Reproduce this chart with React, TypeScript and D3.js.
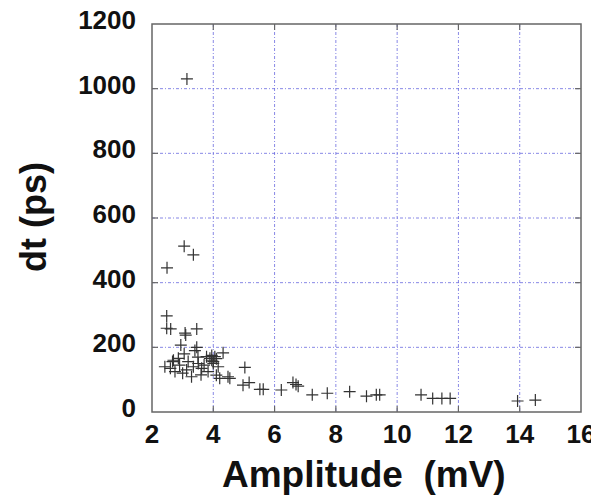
import React from "react";
import * as d3 from "d3";

const amplitude: number[] = [
  3.14, 3.05, 3.35, 2.49, 2.48, 2.48, 2.61, 3.46, 3.10, 2.94, 3.46, 4.32,
  2.42, 2.75, 2.86, 3.18, 3.29, 3.51, 3.62, 3.78, 3.89, 4.00, 3.83, 4.10,
  4.48, 4.16, 3.13, 3.35, 5.03, 4.97, 5.17, 5.52, 6.22, 6.60, 6.77, 6.70,
  7.23, 7.72, 8.45, 9.00, 9.32, 9.43, 10.78, 11.16, 11.46, 11.73, 13.93, 14.51,
  4.05, 4.00, 4.21, 4.54, 3.95, 3.95, 2.60, 2.90, 3.00, 3.60, 3.50, 3.05,
  2.70, 4.10, 3.70, 5.63, 3.40, 3.08, 2.67,
];
const dt: number[] = [
  1030, 513, 486, 446, 297, 259, 257, 257, 238, 207, 200, 183,
  140, 125, 166, 156, 109, 150, 135, 171, 166, 156, 125, 114,
  109, 140, 130, 140, 138, 83, 91, 70, 68, 91, 80, 85,
  53, 58, 63, 49, 53, 53, 53, 42, 42, 42, 34, 37,
  171, 150, 104, 104, 175, 160, 135, 145, 120, 115, 170, 180,
  160, 165, 145, 70, 190, 244, 156,
];
const xTicks: number[] = [2, 4, 6, 8, 10, 12, 14, 16];
const yTicks: number[] = [0, 200, 400, 600, 800, 1000, 1200];
const xLabel = "Amplitude  (mV)";
const yLabel = "dt (ps)";

const W = 591;
const H = 502;
const L = 152;
const R = 581;
const T = 24;
const B = 412;
const FONT = "'Liberation Sans', Arial, Helvetica, sans-serif";

export default function App() {
  const x = d3.scaleLinear().domain([2, 16]).range([L, R]);
  const y = d3.scaleLinear().domain([0, 1200]).range([B, T]);
  const gridColor = "#6b6be0";
  const frameColor = "#666";
  const tickLen = 6;
  const arm = 6;

  return (
    <svg
      width={W}
      height={H}
      style={{ position: "absolute", left: 0, top: 0, background: "#fff" }}
    >
      <rect x={0} y={0} width={W} height={H} fill="#fff" />
      {/* grid */}
      {xTicks.slice(1, -1).map((t) => (
        <line
          key={"gx" + t}
          x1={x(t)}
          x2={x(t)}
          y1={T}
          y2={B}
          stroke={gridColor}
          strokeWidth={1}
          strokeDasharray="3,2,1,2"
          opacity={0.8}
        />
      ))}
      {yTicks.slice(1, -1).map((t) => (
        <line
          key={"gy" + t}
          x1={L}
          x2={R}
          y1={y(t)}
          y2={y(t)}
          stroke={gridColor}
          strokeWidth={1}
          strokeDasharray="3,2,1,2"
          opacity={0.8}
        />
      ))}
      {/* ticks */}
      {xTicks.slice(1, -1).map((t) => (
        <g key={"tx" + t}>
          <line x1={x(t)} x2={x(t)} y1={B} y2={B - tickLen} stroke={frameColor} strokeWidth={1.2} />
          <line x1={x(t)} x2={x(t)} y1={T} y2={T + tickLen} stroke={frameColor} strokeWidth={1.2} />
        </g>
      ))}
      {yTicks.slice(1, -1).map((t) => (
        <g key={"ty" + t}>
          <line x1={L} x2={L + tickLen} y1={y(t)} y2={y(t)} stroke={frameColor} strokeWidth={1.2} />
          <line x1={R} x2={R - tickLen} y1={y(t)} y2={y(t)} stroke={frameColor} strokeWidth={1.2} />
        </g>
      ))}
      {/* frame */}
      <rect x={L} y={T} width={R - L} height={B - T} fill="none" stroke={frameColor} strokeWidth={1.5} />
      {/* points */}
      <g stroke="#333" strokeWidth={1.2}>
        {amplitude.map((a, i) => {
          const px = x(a);
          const py = y(dt[i]);
          return (
            <path key={"p" + i} d={`M${px - arm},${py}H${px + arm}M${px},${py - arm}V${py + arm}`} />
          );
        })}
      </g>
      {/* tick labels */}
      <g fontFamily={FONT} fontWeight="bold" fontSize={26} fill="#111">
        {xTicks.map((t) => (
          <text key={"lx" + t} x={x(t)} y={443} textAnchor="middle">
            {t}
          </text>
        ))}
        {yTicks.map((t) => (
          <text key={"ly" + t} x={136} y={y(t) + 5} textAnchor="end">
            {t}
          </text>
        ))}
      </g>
      {/* axis labels */}
      <text
        x={222}
        y={487}
        fontFamily={FONT}
        fontWeight="bold"
        fontSize={37}
        fill="#111"
        style={{ whiteSpace: "pre" }}
        xmlSpace="preserve"
      >
        {xLabel}
      </text>
      <text
        transform={`translate(46,217) rotate(-90)`}
        textAnchor="middle"
        fontFamily={FONT}
        fontWeight="bold"
        fontSize={36}
        fill="#111"
        style={{ whiteSpace: "pre" }}
      >
        {yLabel}
      </text>
    </svg>
  );
}
